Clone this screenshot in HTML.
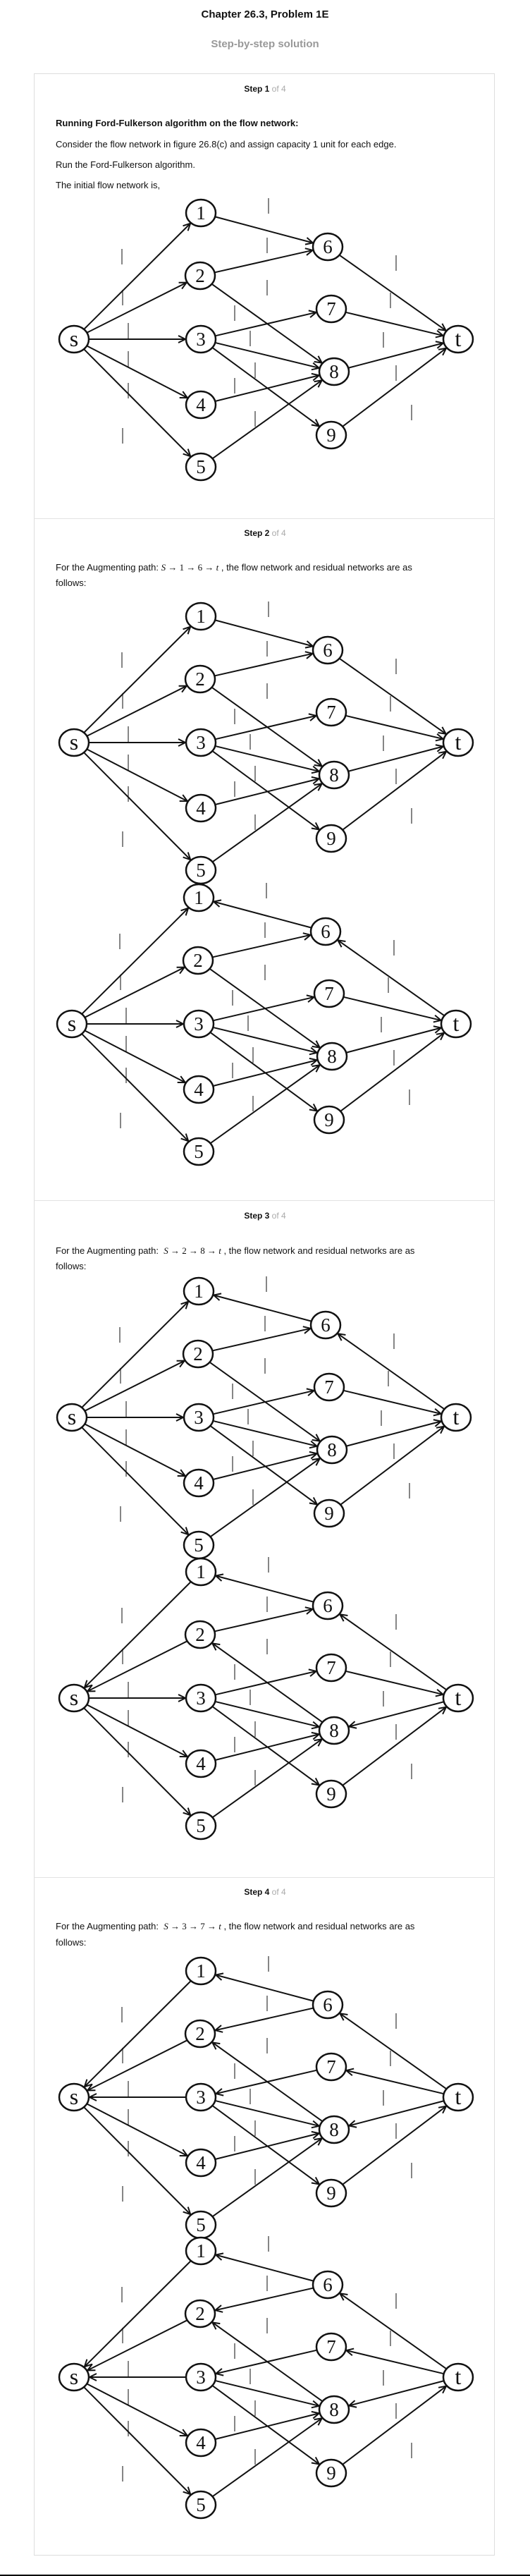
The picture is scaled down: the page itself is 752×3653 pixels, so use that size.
<!DOCTYPE html>
<html><head><meta charset="utf-8">
<style>
html,body{margin:0;padding:0;background:#fff;}
body{width:752px;height:3653px;position:relative;overflow:hidden;font-family:"Liberation Sans",Arial,sans-serif;color:#111;}
.t{position:absolute;white-space:nowrap;line-height:16px;}
.c{left:0;width:752px;text-align:center;}
.card{position:absolute;left:48px;top:104px;width:654px;height:3520px;border:1px solid #ddd;box-sizing:border-box;}
.div{position:absolute;left:48px;width:654px;height:1px;background:#e2e2e2;}
.p{left:79px;font-size:13px;}
.m{font-family:"Liberation Serif",serif;font-style:italic;}
.mn{font-family:"Liberation Serif",serif;}
svg{position:absolute;left:0;top:0;}
</style></head><body>
<div class="t c" style="top:13px;font-size:15px;font-weight:bold;">Chapter 26.3, Problem 1E</div>
<div class="t c" style="top:55px;font-size:15px;font-weight:bold;color:#999;">Step-by-step solution</div>
<div class="card"></div>
<div class="div" style="top:735px"></div>
<div class="div" style="top:1702px"></div>
<div class="div" style="top:2662px"></div>

<div class="t c" style="top:118px;font-size:12px;font-weight:bold;">Step 1 <span style="color:#aaa;font-weight:normal">of 4</span></div>
<div class="t p" style="top:167px;font-weight:bold;">Running Ford-Fulkerson algorithm on the flow network:</div>
<div class="t p" style="top:197px;">Consider the flow network in figure 26.8(c) and assign capacity 1 unit for each edge.</div>
<div class="t p" style="top:226px;">Run the Ford-Fulkerson algorithm.</div>
<div class="t p" style="top:255px;">The initial flow network is,</div>

<div class="t c" style="top:748px;font-size:12px;font-weight:bold;">Step 2 <span style="color:#aaa;font-weight:normal">of 4</span></div>
<div class="t p" style="top:797px;">For the Augmenting path: <span class="m">S</span><span class="mn"> → 1 → 6 → </span><span class="m">t</span> , the flow network and residual networks are as</div>
<div class="t p" style="top:819px;">follows:</div>

<div class="t c" style="top:1716px;font-size:12px;font-weight:bold;">Step 3 <span style="color:#aaa;font-weight:normal">of 4</span></div>
<div class="t p" style="top:1766px;">For the Augmenting path:&nbsp; <span class="m">S</span><span class="mn"> → 2 → 8 → </span><span class="m">t</span> , the flow network and residual networks are as</div>
<div class="t p" style="top:1788px;">follows:</div>

<div class="t c" style="top:2675px;font-size:12px;font-weight:bold;">Step 4 <span style="color:#aaa;font-weight:normal">of 4</span></div>
<div class="t p" style="top:2724px;">For the Augmenting path:&nbsp; <span class="m">S</span><span class="mn"> → 3 → 7 → </span><span class="m">t</span> , the flow network and residual networks are as</div>
<div class="t p" style="top:2747px;">follows:</div>

<div style="position:absolute;left:0;top:3651px;width:752px;height:2px;background:#000;"></div>

<svg id="g" width="752" height="3653" viewBox="0 0 752 3653" xmlns="http://www.w3.org/2000/svg">
<defs><marker id="a" viewBox="0 0 12 12" refX="11" refY="6" markerWidth="12" markerHeight="12" markerUnits="userSpaceOnUse" orient="auto"><path d="M1,1 L11,6 L1,11" fill="none" stroke="#111" stroke-width="2"/></marker></defs>
</svg>
<script>
(function(){
var svg=document.getElementById('g'),NS='http://www.w3.org/2000/svg';
var N={s:[105,0],'1':[285,-179],'2':[284,-90],'3':[285,0],'4':[285,93],'5':[285,181],'6':[465,-131],'7':[470,-43],'8':[474,46],'9':[470,136],t:[650,0]};
var RX=21,RY=19;
var base=['s1','s2','s3','s4','s5','16','26','28','37','38','39','48','58','6t','7t','8t','9t'];
function E(rev){return base.map(function(e){var a=e[0],b=e[1];return rev.indexOf(e)>=0?[b,a]:[a,b];});}
var r2=['16','6t'],r3=r2.concat(['s1','s2','28','8t']),r4=r3.concat(['26','37','s3','7t']);
var G=[[481,0,E([])],[1053,0,E([])],[1452,-3,E(r2)],[2010,-3,E(r2)],[2408,0,E(r3)],[2974,0,E(r4)],[3371,0,E(r4)]];
var ticks=[[381,-189],[379,-133],[173,-117],[562,-108],[174,-59],[379,-73],[554,-55],[333,-37],[182,-12],[355,-1],[544,1],[182,28],[362,44],[562,48],[182,73],[333,66],[362,113],[584,104],[174,137]];
function el(n,at,txt){var e=document.createElementNS(NS,n);for(var k in at)e.setAttribute(k,at[k]);if(txt)e.textContent=txt;svg.appendChild(e);return e;}
function clip(x,y,ux,uy){var t=1/Math.sqrt((ux/RX)*(ux/RX)+(uy/RY)*(uy/RY));return [x+ux*(t+1),y+uy*(t+1)];}
G.forEach(function(g){
 var sy=g[0],dx=g[1];
 function P(k){return [N[k][0]+dx,N[k][1]+sy];}
 ticks.forEach(function(t){el('line',{x1:t[0]+dx,y1:sy+t[1]-11,x2:t[0]+dx,y2:sy+t[1]+11,stroke:'#444','stroke-width':1.3});});
 g[2].forEach(function(e){
  var A=P(e[0]),B=P(e[1]),vx=B[0]-A[0],vy=B[1]-A[1],L=Math.sqrt(vx*vx+vy*vy);vx/=L;vy/=L;
  var p=clip(A[0],A[1],vx,vy),q=clip(B[0],B[1],-vx,-vy);
  el('line',{x1:p[0],y1:p[1],x2:q[0],y2:q[1],stroke:'#111','stroke-width':2,'marker-end':'url(#a)'});
 });
 for(var k in N){var p=P(k);
  el('ellipse',{cx:p[0],cy:p[1],rx:RX,ry:RY,fill:'#fff',stroke:'#111','stroke-width':2.5});
  var big=(k=='s'||k=='t');
  el('text',{x:p[0],y:p[1]+(big?10:9),'text-anchor':'middle','font-family':'Liberation Serif, serif','font-size':big?32:27,fill:'#111'},k);
 }
});
})();
</script>
</body></html>
